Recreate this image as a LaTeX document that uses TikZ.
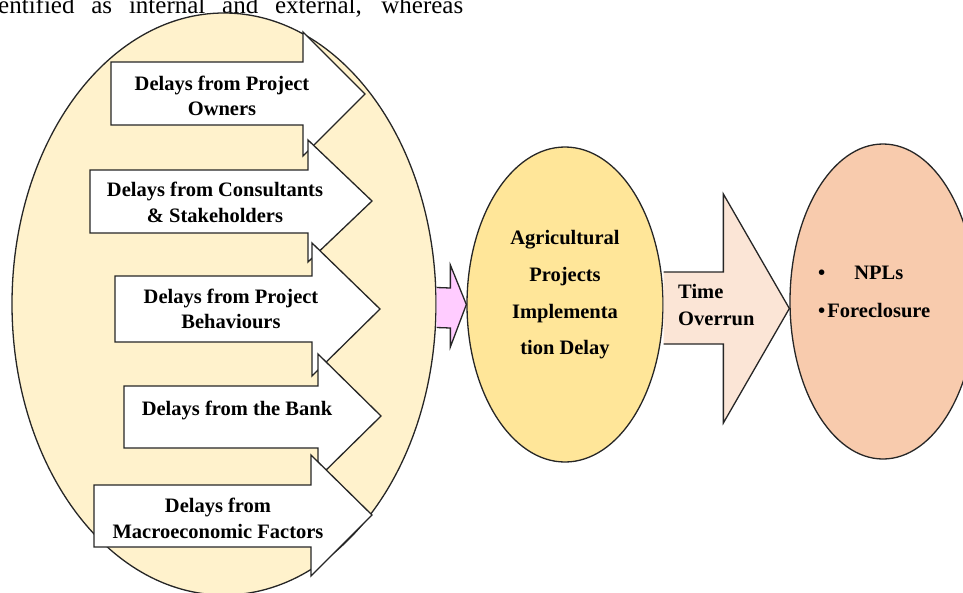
\documentclass[tikz,border=0pt]{standalone}
\usepackage{fontspec}
\setmainfont{Liberation Serif}
\usetikzlibrary{shapes.geometric,calc}
\definecolor{causefill}{HTML}{FFF2CC}
\definecolor{delayfill}{HTML}{FFE699}
\definecolor{effectfill}{HTML}{F8CBAD}
\definecolor{overrunfill}{HTML}{FBE5D6}
\definecolor{linkfill}{HTML}{FFCCFF}
\definecolor{edge}{HTML}{262626}
\begin{document}
\begin{tikzpicture}[x=1pt,y=-1pt,
  outline/.style={draw=edge,line width=1.3pt,line join=miter},
  oval/.style={ellipse,outline,inner sep=0pt},
  blockarrow/.style={outline,fill=white},
  lbl/.style={font=\fontsize{20.5}{25.5}\selectfont\bfseries,align=center,inner sep=0pt},
]
\clip (0,0) rectangle (963,592);

% running text line above the figure
\node[anchor=base west,inner sep=0pt,font=\fontsize{25}{25}\selectfont] (para) at (-2,13)
  {\makebox[465pt][s]{entified as internal and external, whereas}};

% causes of delay
\node[oval,fill=causefill,minimum width=424pt,minimum height=582pt] (causes) at (224,304) {};

\draw[blockarrow] (111,62) -- (303,62) -- (303,32) -- (365,94) -- (303,156) -- (303,125) -- (111,125) -- cycle;
\node[lbl] (owners) at (222,96) {Delays from Project\\Owners};

\draw[blockarrow] (90,170) -- (308,170) -- (308,140) -- (372,201) -- (308,262) -- (308,233) -- (90,233) -- cycle;
\node[lbl] (consult) at (215,202.5) {Delays from Consultants\\\& Stakeholders};

\draw[blockarrow] (115,276) -- (312,276) -- (312,243) -- (380,309) -- (312,376) -- (312,342) -- (115,342) -- cycle;
\node[lbl] (behav) at (231,309) {Delays from Project\\Behaviours};

\draw[blockarrow] (124,386) -- (318,386) -- (318,354) -- (381,416) -- (318,478) -- (318,448) -- (124,448) -- cycle;
\node[lbl] (bank) at (237,410) {Delays from the Bank};

\draw[blockarrow] (94,485) -- (311,485) -- (311,455) -- (372,515) -- (311,576) -- (311,547) -- (94,547) -- cycle;
\node[lbl] (macro) at (218,518.5) {Delays from\\Macroeconomic Factors};

% central delay and its consequences
\node[oval,fill=delayfill,minimum width=196pt,minimum height=315pt] (delay) at (565,304.5) {};
\node[lbl,font=\fontsize{20.5}{36.7}\selectfont\bfseries] (delaytxt) at (565,295)
  {Agricultural\\Projects\\Implementa\\tion Delay};

\node[oval,fill=effectfill,minimum width=186pt,minimum height=315pt] (effects) at (883,301.5) {};
\node[lbl,align=left,anchor=west,font=\fontsize{20.5}{38}\selectfont\bfseries] (effecttxt) at (818,292)
  {\textbullet\hspace{29pt}NPLs\\\textbullet\hspace{2pt}Foreclosure};

% block connectors
\draw[outline,fill=linkfill]
  ($(causes.east)+(0,-16.5)$) -- ($(delay.west)+(-16,-16.5)$) -- ($(delay.west)+(-16,-39.5)$)
  -- (delay.west) -- ($(delay.west)+(-16,42.5)$) -- ($(delay.west)+(-16,23.5)$)
  -- ($(causes.east)+(0,23.5)$);

\coordinate (overruntip) at ($(effects.west)+(0,7)$);
\draw[outline,fill=overrunfill]
  ($(delay.east)+(0,-32.5)$) -- ($(overruntip)+(-66,-36.5)$) -- ($(overruntip)+(-66,-114.5)$)
  -- (overruntip) -- ($(overruntip)+(-66,114.5)$) -- ($(overruntip)+(-66,35.5)$)
  -- ($(delay.east)+(0,39.5)$);
\node[lbl,align=left,anchor=west,font=\fontsize{20.5}{27}\selectfont\bfseries] (overrun) at (678,305.5)
  {Time\\Overrun};
\end{tikzpicture}
\end{document}
